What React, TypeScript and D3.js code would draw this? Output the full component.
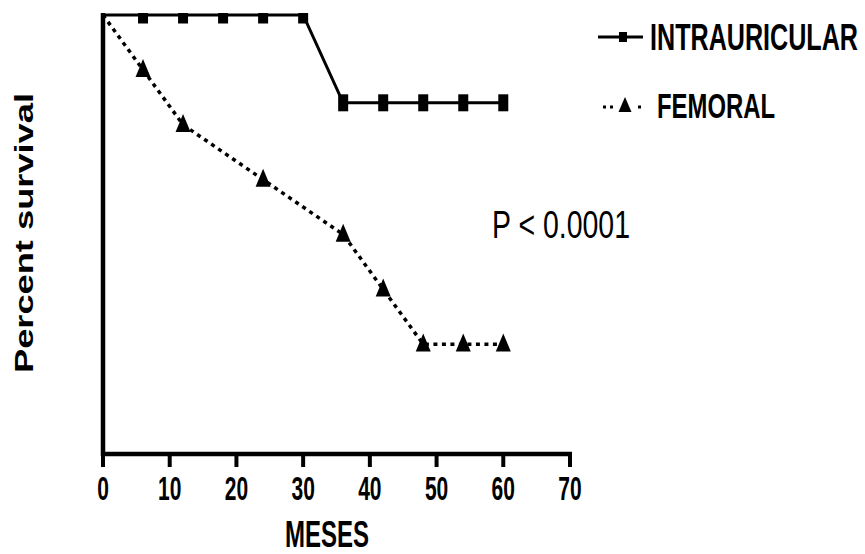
import React from 'react';
import * as d3 from 'd3';

// Kaplan-Meier style survival curves (months vs percent survival)
const intraMonths = [0, 6, 12, 18, 24, 30, 36, 42, 48, 54, 60];
const intraSurvival = [100, 100, 100, 100, 100, 100, 80, 80, 80, 80, 80];
const femMonths = [0, 6, 12, 24, 36, 42, 48, 54, 60];
const femSurvival = [100, 87.5, 75, 62.5, 50, 37.5, 25, 25, 25];
const xTicks = [0, 10, 20, 30, 40, 50, 60, 70];

const W = 865;
const H = 554;
const FONT = '"Liberation Sans", Arial, sans-serif';

const x = d3.scaleLinear().domain([0, 70]).range([103, 570]);
const y = d3.scaleLinear().domain([0, 100]).range([454, 15]);

// the picture is stretched vertically, so text gets a y-scale
const Txt = ({ px, py, size, sy, weight = 'bold', anchor = 'start', len, children }: any) => (
  <text
    transform={`translate(${px},${py}) scale(1,${sy})`}
    fontFamily={FONT}
    fontSize={size}
    fontWeight={weight}
    textAnchor={anchor}
    textLength={len}
    lengthAdjust={len ? 'spacingAndGlyphs' : undefined}
    fill="#000"
  >
    {children}
  </text>
);

const tri = (cx: number, cy: number, w: number, h: number) =>
  `M${cx},${cy - h * 0.6}L${cx + w / 2},${cy + h * 0.4}L${cx - w / 2},${cy + h * 0.4}Z`;

export default function App() {
  const intra = intraMonths.map((m, i) => [m, intraSurvival[i]] as [number, number]);
  const fem = femMonths.map((m, i) => [m, femSurvival[i]] as [number, number]);
  const line = d3.line<[number, number]>().x(d => x(d[0])).y(d => y(d[1]));

  return (
    <svg width={W} height={H} style={{ position: 'absolute', left: 0, top: 0, background: '#fff' }}>
      <defs>
        <clipPath id="plotclip">
          <rect x={0} y={13} width={W} height={H} />
        </clipPath>
      </defs>

      {/* axes */}
      <line x1={x(0)} x2={x(0)} y1={13} y2={456} stroke="#000" strokeWidth={4.5} />
      <line x1={x(0) - 2} x2={x(70) + 2} y1={454} y2={454} stroke="#000" strokeWidth={4.5} />
      {xTicks.map(t => (
        <g key={t}>
          <line x1={x(t)} x2={x(t)} y1={454} y2={467} stroke="#000" strokeWidth={4} />
          <Txt px={x(t)} py={500} size={21} sy={1.55} anchor="middle">{t}</Txt>
        </g>
      ))}

      <Txt px={327} py={547} size={23.5} sy={1.55} anchor="middle" len={84}>MESES</Txt>

      <text
        transform="translate(33,233) rotate(-90)"
        fontFamily={FONT}
        fontSize={25}
        fontWeight="bold"
        textAnchor="middle"
        textLength={280}
        lengthAdjust="spacingAndGlyphs"
      >
        Percent survival
      </text>

      <g clipPath="url(#plotclip)">
        <path d={line(fem) || ''} fill="none" stroke="#000" strokeWidth={3.5} strokeDasharray="4 4.5" />
        <path d={line(intra) || ''} fill="none" stroke="#000" strokeWidth={3} />
        {intra.slice(1).map(d => (
          <rect key={d[0]} x={x(d[0]) - 5} y={y(d[1]) - 8.5} width={10} height={17} fill="#000" />
        ))}
        {fem.slice(1).map(d => (
          <path key={d[0]} d={tri(x(d[0]), y(d[1]), 15, 18)} fill="#000" />
        ))}
      </g>

      <Txt px={492} py={238} size={30} sy={1.3} weight="normal" len={138}>P &lt; 0.0001</Txt>

      {/* legend */}
      <line x1={598} x2={643} y1={37} y2={37} stroke="#000" strokeWidth={3} />
      <rect x={619} y={32} width={8} height={10} fill="#000" />
      <Txt px={650} py={50} size={25} sy={1.5} len={208}>INTRAURICULAR</Txt>

      <line x1={603} x2={643} y1={107} y2={107} stroke="#000" strokeWidth={3} strokeDasharray="3 4" />
      <rect x={613} y={100} width={24} height={14} fill="#fff" />
      <path d={tri(625, 106, 13, 15)} fill="#000" />
      <Txt px={657} py={118} size={24} sy={1.45} len={118}>FEMORAL</Txt>
    </svg>
  );
}
